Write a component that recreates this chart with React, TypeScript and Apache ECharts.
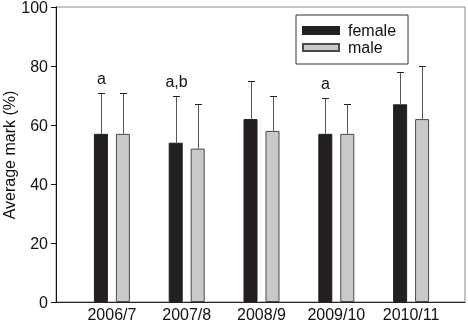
import React, { useEffect, useRef } from "react";
import * as echarts from "echarts";

const categories = ["2006/7", "2007/8", "2008/9", "2009/10", "2010/11"];
const femaleMean = [57, 54, 62, 57, 67];
const maleMean = [57, 52, 58, 57, 62];
const femaleSD = [14, 16, 13, 12, 11];
const maleSD = [14, 15, 12, 10, 18];
const letters = ["a", "a,b", "", "a", ""];
const yTicks = { min: 0, max: 100, interval: 20 };
const yTitle = "Average mark (%)";

const FONT = "'Liberation Sans', Arial, Helvetica, sans-serif";

export default function App() {
  const ref = useRef<HTMLDivElement>(null);
  useEffect(() => {
    if (!ref.current) return;
    const chart = echarts.init(ref.current, undefined, { renderer: "svg" });
    const BAR_W = 14;
    const OFF = 11;
    const errData: any[] = [];
    categories.forEach((_, i) => {
      errData.push([i, femaleMean[i], femaleMean[i] + femaleSD[i], -1, letters[i]]);
      errData.push([i, maleMean[i], maleMean[i] + maleSD[i], 1, ""]);
    });
    const option: any = {
      animation: false,
      textStyle: { fontFamily: FONT },
      grid: [
        { left: 56, top: 7, width: 409, height: 295, show: true, borderColor: "#8a8a8a", borderWidth: 1, backgroundColor: "transparent", outerBoundsMode: "none" },
        { left: 74.5, top: 7, width: 374, height: 295, outerBoundsMode: "none" },
      ],
      graphic: [
        {
          type: "text", x: 9, y: 155, rotation: Math.PI / 2,
          style: { text: yTitle, align: "center", verticalAlign: "middle", fontSize: 16, fill: "#111", fontFamily: FONT },
        },
      ],
      xAxis: [
        {
          gridIndex: 0, type: "value", min: 0, max: 1,
          axisLine: { show: true, lineStyle: { color: "#222", width: 1 } },
          axisTick: { show: false }, axisLabel: { show: false }, splitLine: { show: false },
        },
        {
          gridIndex: 1, type: "category", data: categories,
          axisLine: { show: false }, axisTick: { show: false },
          axisLabel: { fontSize: 16, color: "#111", margin: 4, fontFamily: FONT, interval: 0 },
        },
      ],
      yAxis: [
        {
          gridIndex: 0, type: "value", min: yTicks.min, max: yTicks.max, interval: yTicks.interval,
          axisLine: { show: true, lineStyle: { color: "#111", width: 1 } },
          axisTick: { show: true, length: 5, lineStyle: { color: "#111" } },
          axisLabel: { fontSize: 16, color: "#111", margin: 8, fontFamily: FONT },
          splitLine: { show: false },
        },
        { gridIndex: 1, type: "value", min: yTicks.min, max: yTicks.max, show: false },
      ],
      legend: {
        data: ["female", "male"], orient: "vertical", left: 296, top: 15,
        itemWidth: 36, itemHeight: 7, itemGap: 0, icon: "rect",
        padding: [7, 12, 8, 6], borderColor: "#333", borderWidth: 1,
        textStyle: { fontSize: 16, lineHeight: 17, color: "#111", fontFamily: FONT, padding: [0, 0, 0, 4] },
      },
      series: [
        {
          name: "female", type: "bar", xAxisIndex: 1, yAxisIndex: 1, data: femaleMean,
          barWidth: BAR_W, barGap: "57%",
          itemStyle: { color: "#231f20", borderColor: "#231f20", borderWidth: 1 },
        },
        {
          name: "male", type: "bar", xAxisIndex: 1, yAxisIndex: 1, data: maleMean,
          barWidth: BAR_W, barGap: "57%",
          itemStyle: { color: "#c8c9cb", borderColor: "#4a4a4a", borderWidth: 1 },
        },
        {
          name: "err", type: "custom", xAxisIndex: 1, yAxisIndex: 1, data: errData, z: 5,
          renderItem: (params: any, api: any) => {
            const i = api.value(0);
            const base = api.coord([i, api.value(1)]);
            const top = api.coord([i, api.value(2)]);
            const sign = api.value(3);
            const x = Math.round(base[0] + sign * OFF) + 0.5;
            const yTop = Math.round(top[1]) + 0.5;
            const letter = errData[params.dataIndex][4];
            const children: any[] = [
              { type: "line", shape: { x1: x, y1: base[1], x2: x, y2: yTop }, style: { stroke: "#555", lineWidth: 1 } },
              { type: "line", shape: { x1: x - 3.5, y1: yTop, x2: x + 3.5, y2: yTop }, style: { stroke: "#222", lineWidth: 1 } },
            ];
            if (letter) {
              children.push({
                type: "text",
                style: { text: letter, x: x, y: yTop - 7, align: "center", verticalAlign: "bottom", fontSize: 16, fill: "#111", fontFamily: FONT },
              });
            }
            return { type: "group", children };
          },
        },
      ],
    };
    chart.setOption(option);
    return () => chart.dispose();
  }, []);
  return <div ref={ref} style={{ position: "fixed", left: 0, top: 0, width: 468, height: 321 }} />;
}
